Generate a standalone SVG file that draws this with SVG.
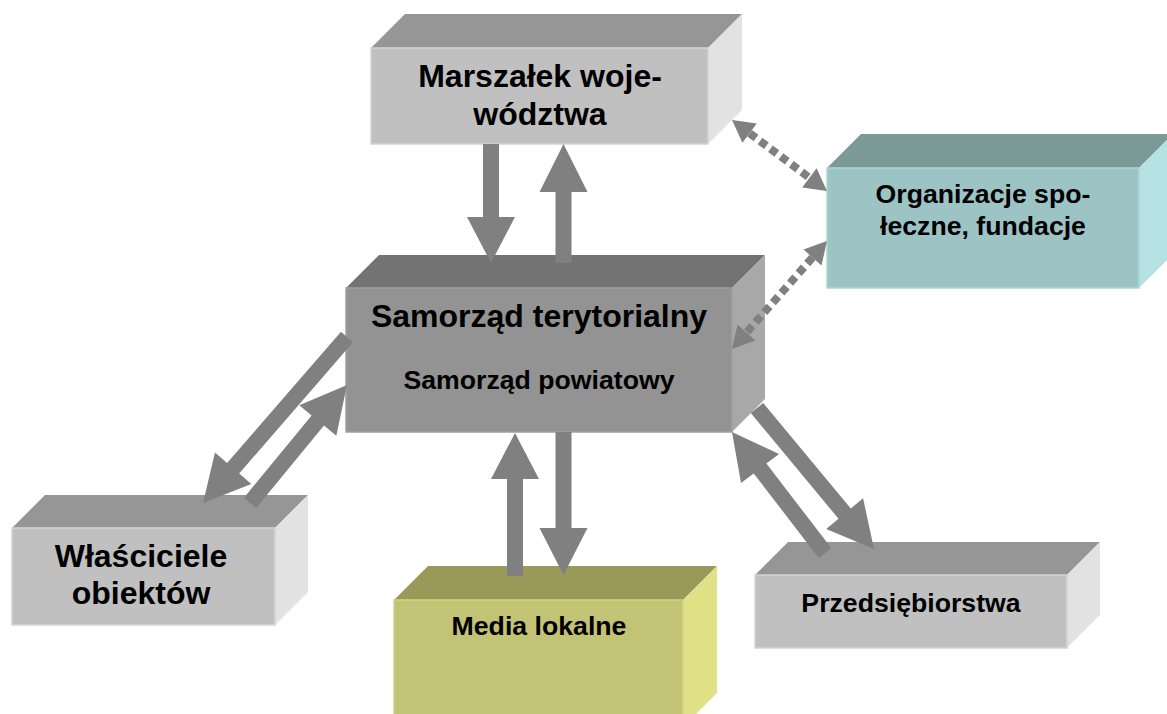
<svg xmlns="http://www.w3.org/2000/svg" width="1167" height="714" viewBox="0 0 1167 714">
<style>
text{font-family:"Liberation Sans",Arial,sans-serif;font-weight:bold;fill:#000;text-anchor:middle}
.big{font-size:32px}
.mid{font-size:26.67px}
.g-front{fill:#c0c0c0;stroke:#d4d4d4;stroke-width:1.5}
.g-top{fill:#969696}
.g-right{fill:#e2e2e2}
.d-front{fill:#939393;stroke:#a0a0a0;stroke-width:1.5}
.d-top{fill:#737373}
.d-right{fill:#a8a8a8}
.t-front{fill:#9cc4c4;stroke:#b0d6d6;stroke-width:1.5}
.t-top{fill:#7a9997}
.t-right{fill:#b4e1e1}
.y-front{fill:#c3c376;stroke:#d4d486;stroke-width:1.5}
.y-top{fill:#999958}
.y-right{fill:#e0e086}
.arr{fill:#808080}
.dot{stroke:#808080;stroke-width:8;stroke-dasharray:8 5;fill:none}
</style>
<rect width="1167" height="714" fill="#fff"/>

<g id="marszalek">
<polygon class="g-top" points="371,48 405,14 742,14 708,48"/>
<polygon class="g-right" points="708,48 742,14 742,110 708,144"/>
<rect class="g-front" x="371" y="48" width="337" height="96"/>
<text class="big" x="540" y="87">Marszałek woje-</text>
<text class="big" x="540" y="125">wództwa</text>
</g>

<g id="organizacje">
<polygon class="t-top" points="827,168 861,134 1173,134 1139,168"/>
<polygon class="t-right" points="1139,168 1173,134 1173,254 1139,288"/>
<rect class="t-front" x="827" y="168" width="312" height="120"/>
<text class="mid" x="983" y="203">Organizacje spo-</text>
<text class="mid" x="983" y="235">łeczne, fundacje</text>
</g>

<g id="samorzad">
<polygon class="d-top" points="346,288 379,255 765,255 732,288"/>
<polygon class="d-right" points="732,288 765,255 765,399 732,432"/>
<rect class="d-front" x="346" y="288" width="386" height="144"/>
<text class="big" x="539" y="327">Samorząd terytorialny</text>
<text class="mid" x="539" y="389">Samorząd powiatowy</text>
</g>

<g id="wlasciciele">
<polygon class="g-top" points="12,528 45,495 308,495 275,528"/>
<polygon class="g-right" points="275,528 308,495 308,592 275,625"/>
<rect class="g-front" x="12" y="528" width="263" height="97"/>
<text class="big" x="141" y="567">Właściciele</text>
<text class="big" x="141" y="604">obiektów</text>
</g>

<g id="media">
<polygon class="y-top" points="394,600 428,566 717,566 683,600"/>
<polygon class="y-right" points="683,600 717,566 717,693 683,727"/>
<rect class="y-front" x="394" y="600" width="289" height="127"/>
<text class="mid" x="539" y="635">Media lokalne</text>
</g>

<g id="przedsiebiorstwa">
<polygon class="g-top" points="755,575 788,542 1100,542 1067,575"/>
<polygon class="g-right" points="1067,575 1100,542 1100,615 1067,648"/>
<rect class="g-front" x="755" y="575" width="312" height="73"/>
<text class="mid" x="911" y="612">Przedsiębiorstwa</text>
</g>

<g id="connectors">
<polygon class="arr" points="483,144 499,144 499,217 515,217 491,263 467,217 483,217"/>
<polygon class="arr" points="555.5,263 571.5,263 571.5,192 587.5,192 563.5,144 539.5,192 555.5,192"/>
<polygon class="arr" points="507,576 523,576 523,479 539,479 515,433 491,479 507,479"/>
<polygon class="arr" points="555.5,432 571.5,432 571.5,528 587.5,528 563.5,575 539.5,528 555.5,528"/>
<polygon class="arr" points="341,331.8 353,342.2 239.2,473.5 251.3,484 203,503 215,452.5 227.1,463"/>
<polygon class="arr" points="243.8,497.9 256.2,508.1 324,425.6 336.3,435.8 347,385 299.3,405.3 311.6,415.5"/>
<polygon class="arr" points="763.2,402.9 750.8,413.1 838.5,518.7 826.2,528.9 874,549 863.1,498.3 850.8,508.5"/>
<polygon class="arr" points="818.7,557.9 831.3,548.1 766.4,463.6 779.1,453.9 732,432 741,483.1 753.7,473.4"/>
<line class="dot" x1="749.6" y1="133.2" x2="809.4" y2="177.8"/>
<polygon class="arr" points="732,120 742.4,142.8 756.8,123.6"/>
<polygon class="arr" points="827,191 802.2,187.4 816.6,168.2"/>
<line class="dot" x1="812.5" y1="257.5" x2="746.5" y2="332.5"/>
<polygon class="arr" points="827,241 803.5,249.6 821.5,265.5"/>
<polygon class="arr" points="732,349 737.5,324.6 755.5,340.4"/>
</g>
</svg>
